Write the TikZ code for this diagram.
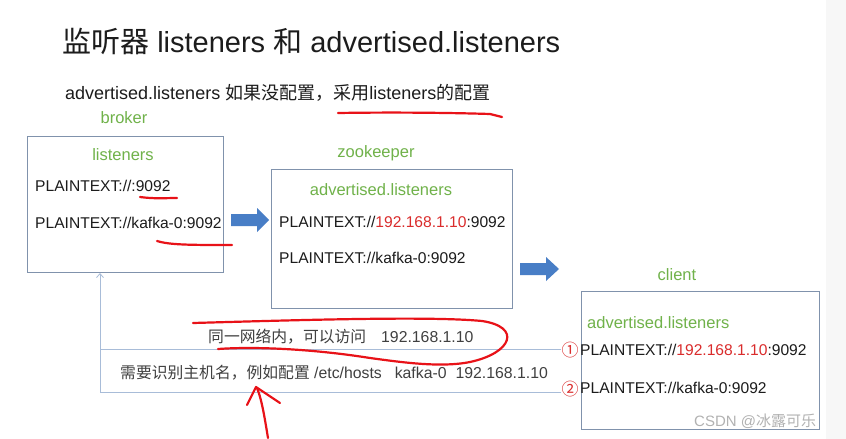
\documentclass[tikz,border=0pt]{standalone}
\usepackage{fontspec}
\setmainfont{Liberation Sans}
\newfontfamily\cjk{Noto Sans CJK SC}
\usetikzlibrary{arrows.meta}
\definecolor{lgreen}{RGB}{112,178,74}
\definecolor{tred}{RGB}{218,44,44}
\definecolor{ablue}{RGB}{72,126,198}
\definecolor{boxc}{RGB}{128,146,172}
\definecolor{linec}{RGB}{168,188,216}
\definecolor{mred}{RGB}{232,18,24}
\definecolor{ink}{RGB}{28,28,28}
\begin{document}
\begin{tikzpicture}[x=1pt,y=-1pt,
  box/.style={draw=boxc, line width=1pt, inner sep=0pt, anchor=north west},
  txt/.style={anchor=west, inner sep=0pt, text=ink, font=\fontsize{15.6}{18}\selectfont},
  glabel/.style={inner sep=0pt, text=lgreen, font=\fontsize{16.5}{19}\selectfont},
  note/.style={anchor=west, inner sep=0pt, text=black!75, font=\fontsize{15.8}{18}\selectfont},
  circ/.style={inner sep=0pt, text=tred, font=\cjk\fontsize{17}{18}\selectfont},
  link/.style={draw=linec, line width=0.8pt},
  marker/.style={draw=mred, line width=2.2pt, line cap=round, line join=round},
  blockarrow/.style={fill=ablue}]
\useasboundingbox (0,0) rectangle (846,439);
\fill[white] (0,0) rectangle (846,439);
\fill[gray!6] (826,0) rectangle (846,439);

% titles
\node[anchor=west, inner sep=0pt, text=ink, font=\fontsize{29}{33}\selectfont] (title) at (62,42)
  {{\cjk 监听器} listeners {\cjk 和} advertised.listeners};
\node[anchor=west, inner sep=0pt, text=ink, font=\fontsize{18}{20}\selectfont] (sub) at (65,93)
  {advertised.listeners {\cjk 如果没配置，采用}listeners{\cjk 的配置}};

% broker
\node[glabel] (brokerlbl) at (124,118) {broker};
\node[box, minimum width=196pt, minimum height=136pt] (broker) at (27,136) {};
\node[glabel] (bl) at (123,155) {listeners};
\node[txt] (b1) at (35,186) {PLAINTEXT://:9092};
\node[txt] (b2) at (35,223) {PLAINTEXT://kafka-0:9092};

% zookeeper
\node[glabel] (zklbl) at (376,153) {zookeeper};
\node[box, minimum width=241pt, minimum height=139pt] (zk) at (271,169) {};
\node[glabel] (zl) at (381,190) {advertised.listeners};
\node[txt] (z1) at (279,222) {PLAINTEXT://\textcolor{tred}{192.168.1.10}:9092};
\node[txt] (z2) at (279,258) {PLAINTEXT://kafka-0:9092};

% client
\node[glabel] (clientlbl) at (677,275) {client};
\node[box, minimum width=238pt, minimum height=138pt] (client) at (581,291) {};
\node[glabel, anchor=west] (cl) at (587,323) {advertised.listeners};
\node[txt] (k1) at (580,350) {PLAINTEXT://\textcolor{tred}{192.168.1.10}:9092};
\node[txt] (k2) at (580,388) {PLAINTEXT://kafka-0:9092};
\node[circ] (c1) at (570,350) {①};
\node[circ] (c2) at (570,389) {②};

% block arrows
\fill[blockarrow] (231,214) -- (257,214) -- (257,208) -- (269,220) -- (257,232) -- (257,226) -- (231,226) -- cycle;
\fill[blockarrow] (520,263) -- (546,263) -- (546,257) -- (559,269) -- (546,281) -- (546,275) -- (520,275) -- cycle;

% return links
\coordinate (bk) at (100,273);
\draw[link,-{Straight Barb[length=4pt,width=7pt]}] (c2.west |- 0,392) -- (100,392) -- (bk);
\draw[link] (c1.west |- 0,349) -- (100,349);
\node[note] (n1) at (208,337) {{\cjk 同一网络内，可以访问}\hspace{15pt}192.168.1.10};
\node[note] (n2) at (120,373) {{\cjk 需要识别主机名，例如配置} /etc/hosts\hspace{13pt}kafka-0\hspace{9pt}192.168.1.10};

% watermark
\node[anchor=west, inner sep=0pt, text=gray!60, font=\fontsize{15}{17}\selectfont] (wm) at (694,421) {CSDN @{\cjk 冰露可乐}};

% red hand-drawn marks
\draw[marker] (338,113) .. controls (400,112) and (460,113) .. (490,114) -- (502,117);
\draw[marker] (140,197) .. controls (155,199) and (165,198) .. (177,198);
\draw[marker] (157,241) .. controls (170,245) and (190,245) .. (232,245);
\draw[marker] (193,323) .. controls (300,320) and (430,316) .. (482,321)
  .. controls (522,327) and (512,353) .. (470,362)
  .. controls (440,368) and (400,362) .. (370,358)
  .. controls (320,350) and (260,346) .. (218,349);
\draw[marker] (268,438) .. controls (265,420) and (262,400) .. (257,388);
\draw[marker] (247,405) -- (256,387) -- (280,403);
\end{tikzpicture}
\end{document}
